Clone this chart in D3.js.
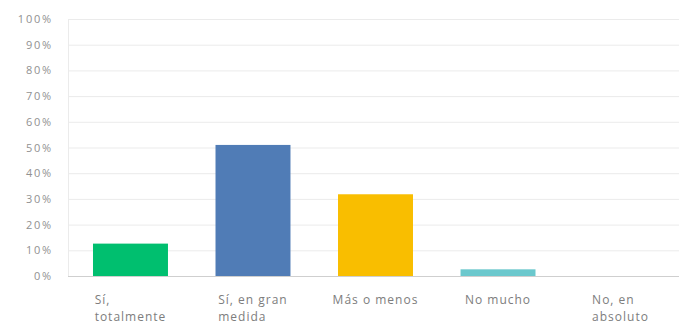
<!DOCTYPE html>
<html>
<head>
<meta charset="utf-8">
<script src="https://cdn.jsdelivr.net/npm/d3@7"></script>
<style>
  html, body { margin: 0; padding: 0; background: #fff; }
  svg { display: block; font-family: "Open Sans", Roboto, sans-serif; }
</style>
</head>
<body>
<svg id="chart" width="679" height="327"></svg>
<script>
// Survey answer options, each split into its display lines
const categories = ["Sí, totalmente", "Sí, en gran medida", "Más o menos", "No mucho", "No, en absoluto"];
const categoryLines = [["Sí,", "totalmente"], ["Sí, en gran", "medida"], ["Más o menos"], ["No mucho"], ["No, en", "absoluto"]];
// Share of respondents (%)
const values = [12.6, 51.0, 31.8, 2.6, 0];
const barColors = ["#00bf6f", "#507cb6", "#f9be00", "#6bc8cd", "#ff8b4f"];
const yTicks = [0, 10, 20, 30, 40, 50, 60, 70, 80, 90, 100];

const svg = d3.select("#chart");
const margin = { top: 19, right: 0, bottom: 51, left: 68 };
const width = 679 - margin.left - margin.right;
const height = 327 - margin.top - margin.bottom;

const g = svg.append("g").attr("transform", `translate(${margin.left},${margin.top})`);

const x = d3.scaleBand().domain(categories).range([0, 615]).paddingInner(0.388).paddingOuter(0.204);
const y = d3.scaleLinear().domain([0, 100]).range([height, 0]);

// Horizontal gridlines
g.append("g")
  .selectAll("line")
  .data(yTicks.filter(t => t > 0))
  .join("line")
  .attr("x1", 0).attr("x2", width)
  .attr("y1", d => y(d) + 0.5).attr("y2", d => y(d) + 0.5)
  .attr("stroke", "#ebebeb");

// Left frame line
g.append("line")
  .attr("x1", 0.5).attr("x2", 0.5)
  .attr("y1", 0).attr("y2", height)
  .attr("stroke", "#ebebeb");

// Y axis labels
const yAxis = d3.axisLeft(y).tickValues(yTicks).tickFormat(d => d + "%").tickSize(0).tickPadding(15);
g.append("g").call(yAxis)
  .call(a => a.select(".domain").remove())
  .call(a => a.selectAll("text")
    .attr("fill", "#919191")
    .attr("font-size", 11)
    .attr("font-family", "'Open Sans', sans-serif")
    .attr("letter-spacing", 1.8));

// Bars
g.append("g")
  .selectAll("rect")
  .data(categories)
  .join("rect")
  .attr("x", d => x(d))
  .attr("width", x.bandwidth())
  .attr("y", (d, i) => y(values[i]))
  .attr("height", (d, i) => height - y(values[i]))
  .attr("fill", (d, i) => barColors[i]);

// Baseline
g.append("line")
  .attr("x1", 0).attr("x2", width)
  .attr("y1", height + 0.5).attr("y2", height + 0.5)
  .attr("stroke", "#cfcfcf");

// Category labels: left-aligned block centred under each band
const labels = g.append("g").attr("fill", "#7d7d7d").attr("font-size", 12).attr("letter-spacing", 1);
categories.forEach((c, i) => {
  const t = labels.append("text").attr("y", height + 28);
  categoryLines[i].forEach((line, j) => {
    t.append("tspan").attr("dy", j === 0 ? 0 : 17).text(line);
  });
  const spans = t.selectAll("tspan").nodes();
  const maxW = d3.max(spans, s => s.getComputedTextLength());
  const left = x(c) + x.bandwidth() / 2 - maxW / 2;
  t.selectAll("tspan").attr("x", left);
});
</script>
</body>
</html>
